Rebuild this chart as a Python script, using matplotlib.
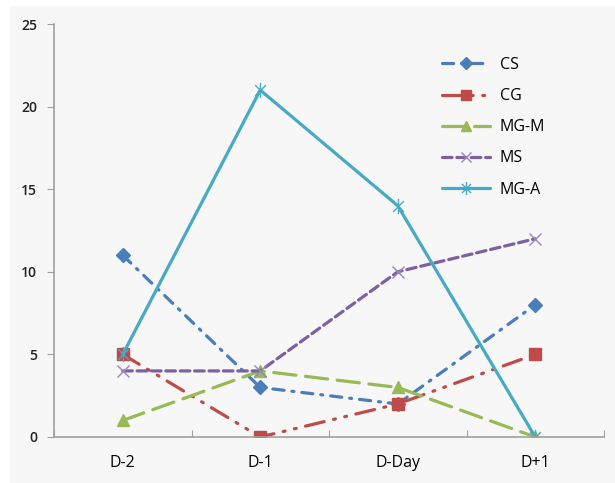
import matplotlib
matplotlib.use("Agg")
import numpy as np
from matplotlib import pyplot as plt
from matplotlib.path import Path
from matplotlib.patches import Rectangle

categories = ["D-2", "D-1", "D-Day", "D+1"]
series_names = ["CS", "CG", "MG-M", "MS", "MG-A"]
cs = [11, 3, 2, 8]
cg = [5, 0, 2, 5]
mg_m = [1, 4, 3, 0]
ms = [4, 4, 10, 12]
mg_a = [5, 21, 14, 0]
y_ticks = [0, 5, 10, 15, 20, 25]

# asterisk marker like the office "star" (x with a vertical bar)
star = Path(
    [(0, -1), (0, 1), (-0.7, -0.7), (0.7, 0.7), (-0.7, 0.7), (0.7, -0.7)],
    [Path.MOVETO, Path.LINETO, Path.MOVETO, Path.LINETO, Path.MOVETO, Path.LINETO],
)

styles = [
    dict(color="#4A7EBB", ls=(0, (3.5, 2.5, 0.6, 2.5)), marker="D", ms=7, mec="#4A7EBB", mew=1),
    dict(color="#BE4B48", ls=(0, (6, 3, 0.6, 3, 0.6, 3)), marker="s", ms=8, mec="#BE4B48", mew=1),
    dict(color="#98B954", ls=(0, (7, 3)), marker="^", ms=9, mec="#98B954", mew=1),
    dict(color="#7D60A0", ls=(0, (3, 1.5)), marker="x", ms=9, mec="#9a84bd", mew=1),
    dict(color="#46AAC5", ls="-", marker=star, ms=11, mec="#46AAC5", mew=1),
]
data = [cs, cg, mg_m, ms, mg_a]

fig = plt.figure(figsize=(6.15, 4.83), dpi=100, facecolor="white")
fig.patches.append(Rectangle((10 / 615, 0), 1, 1 - 6 / 483, transform=fig.transFigure,
                             facecolor="#F7F7F7", edgecolor="none", zorder=-1))
ax = fig.add_axes([54 / 615, 1 - 437 / 483, 550 / 615, 413 / 483])
ax.set_facecolor("#F7F7F7")

x = np.arange(len(categories))
for name, vals, st in zip(series_names, data, styles):
    ax.plot(x, vals, label=name, lw=2.3, dash_capstyle="round", solid_capstyle="round", **st)

ax.set_xlim(-0.5, 3.5)
ax.set_ylim(0, 25)
ax.set_yticks(y_ticks)
ax.set_xticks(np.arange(-0.5, 4, 1))
ax.set_xticklabels([])
ax.set_xticks(x, minor=True)
ax.set_xticklabels(categories, minor=True, fontsize=11.5, family="Open Sans")
ax.tick_params(axis="x", which="minor", length=0, pad=13)
ax.tick_params(axis="x", which="major", length=5, direction="in", color="#A0A0A0")
ax.tick_params(axis="y", length=5, direction="out", color="#A0A0A0", labelsize=10, pad=7)
for lab in ax.get_yticklabels():
    lab.set_family("Open Sans")
    lab.set_fontweight("semibold")
    lab.set_color("#222222")

for s in ["top", "right"]:
    ax.spines[s].set_visible(False)
for s in ["left", "bottom"]:
    ax.spines[s].set_color("#A0A0A0")
    ax.spines[s].set_linewidth(1.2)

leg = ax.legend(loc="upper left", bbox_to_anchor=(0.68, 0.955), frameon=False,
                handlelength=3.0, labelspacing=0.95, handletextpad=0.6, markerscale=0.85,
                prop={"family": "Open Sans", "size": 11.5})

fig.savefig("out.png", dpi=100, facecolor=fig.get_facecolor())
